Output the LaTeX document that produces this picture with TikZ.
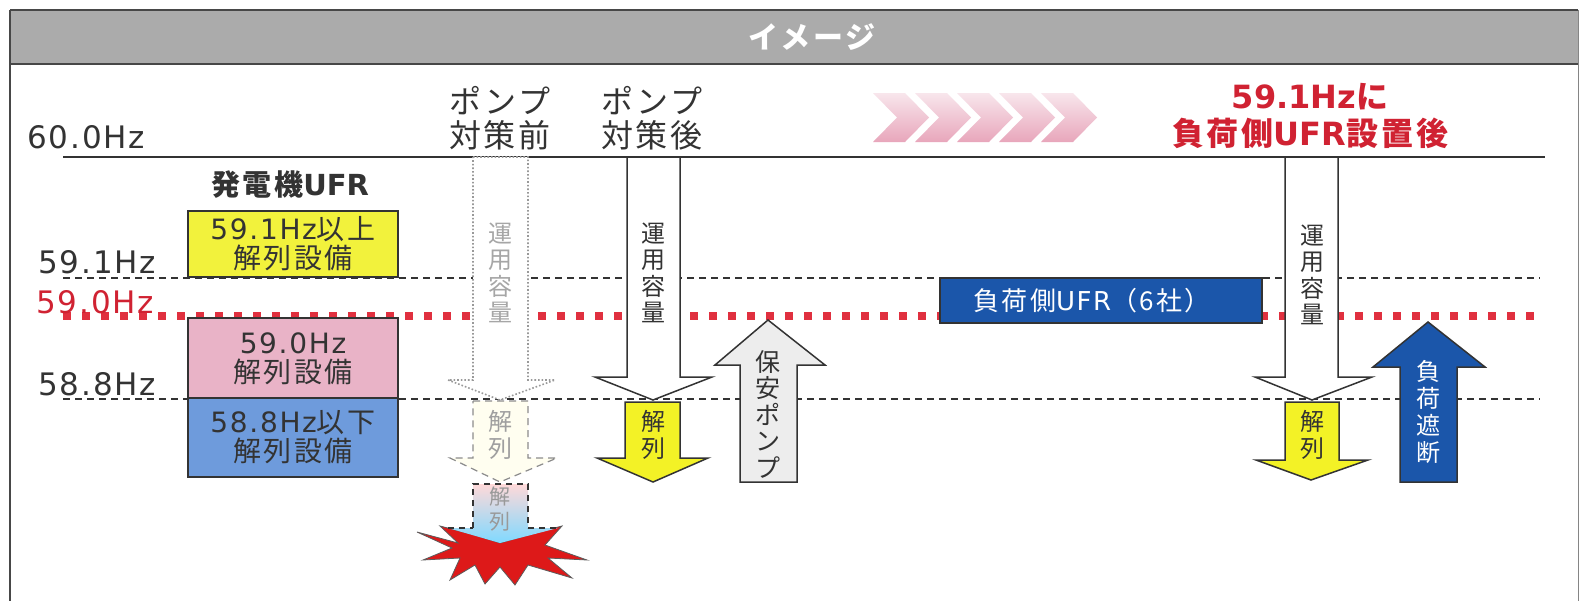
\documentclass[tikz,border=0pt]{standalone}
\usepackage{fontspec}
\newfontfamily\jp{Noto Sans CJK JP}[LetterSpace=9]
\newfontfamily\lat{DejaVu Sans}[LetterSpace=6]
\newfontfamily\latb{DejaVu Sans}
\definecolor{txt}{HTML}{333333}
\definecolor{redtxt}{HTML}{D02232}
\definecolor{reddot}{HTML}{E0303F}
\definecolor{ybox}{HTML}{F2F23C}
\definecolor{pbox}{HTML}{E9B3C7}
\definecolor{bbox}{HTML}{6E9BDC}
\definecolor{darkblue}{HTML}{1B56AA}
\definecolor{barfill}{HTML}{ABABAB}
\definecolor{yarrow}{HTML}{F3F226}
\definecolor{chevtop}{HTML}{F8E6EC}
\definecolor{chevbot}{HTML}{E8A6BB}
\tikzset{
  freqline/.style={draw=txt, line width=1.2pt, dash pattern=on 7pt off 5pt},
  redline/.style={draw=reddot, line width=8pt, dash pattern=on 8pt off 11pt},
  hzlbl/.style={anchor=base west, inner sep=0pt, text=txt, font=\lat\fontsize{31}{33}\selectfont},
  ufrbox/.style={draw=txt, line width=1.2pt},
  boxtxt/.style={align=center, inner sep=0pt, text=txt, font=\jp\fontsize{28}{29}\selectfont},
  vtxt/.style={align=center, inner sep=0pt, font=\jp\fontsize{24}{26.5}\selectfont},
  solidarrow/.style={draw=txt, line width=1.5pt, line join=miter},
  hdr/.style={align=center, inner sep=0pt, text=txt, font=\jp\fontsize{32}{34}\selectfont},
}
\begin{document}
\begin{tikzpicture}[x=1pt,y=-1pt]
\useasboundingbox (0,0) rectangle (1583,600);
\fill[white] (0,0) rectangle (1583,600);
% frame and title bar
\fill[barfill] (10,10) rectangle (1578,64);
\draw[draw=txt!90, line width=1.5pt] (10,10) -- (1578,10);
\draw[draw=txt!90, line width=1.5pt] (10,64) -- (1578,64);
\draw[draw=txt!90, line width=1.5pt] (10,10) -- (10,605);
\draw[draw=txt!60, line width=1pt] (1578,10) -- (1578,605);
\node[text=white, font=\jp\bfseries\fontsize{30}{34}\selectfont, inner sep=0pt] (title) at (812,37) {イメージ};

% headers
\node[hdr] (pre) at (500,118) {ポンプ\\対策前};
\node[hdr] (post) at (652,118) {ポンプ\\対策後};
\foreach \i in {0,...,4}{
  \shade[top color=chevtop, bottom color=chevbot, draw=none]
    ({873+42*\i},93) -- ({905+42*\i},93) -- ({929+42*\i},117.5) -- ({905+42*\i},142)
    -- ({873+42*\i},142) -- ({897+42*\i},117.5) -- cycle;
}
\node[align=center, inner sep=0pt, text=redtxt, font=\jp\bfseries\fontsize{32}{37}\selectfont] (after) at (1310,116) {{\latb\bfseries 59.1Hz}に\\負荷側{\latb\bfseries UFR}設置後};

% frequency lines
\draw[draw=txt, line width=2pt] (63,157) -- (1545,157);
\draw[freqline] (63,278) -- (1540,278);
\draw[freqline] (63,399) -- (1540,399);
\draw[redline] (63,316) -- (1542,316);

% labels
\node[hzlbl] (l60) at (27,148) {60.0Hz};
\node[hzlbl] (l591) at (38,273) {59.1Hz};
\node[hzlbl, text=redtxt] (l590) at (36,313) {59.0Hz};
\node[hzlbl] (l588) at (38,395) {58.8Hz};

% generator UFR boxes
\node[text=txt, font=\jp\bfseries\fontsize{29}{32}\selectfont, inner sep=0pt] (gen) at (290,185) {発電機{\latb\bfseries UFR}};
\draw[ufrbox, fill=ybox] (188,211) rectangle (398,277);
\draw[ufrbox, fill=pbox] (188,318) rectangle (398,398);
\draw[ufrbox, fill=bbox] (188,398) rectangle (398,477);
\node[boxtxt] (ytxt) at (293,244) {{\lat 59.1Hz}以上\\解列設備};
\node[boxtxt] (ptxt) at (293,359) {{\lat 59.0Hz}\\解列設備};
\node[boxtxt] (btxt) at (293,437) {{\lat 58.8Hz}以下\\解列設備};

% before pump measures (faded)
\draw[draw=gray!80, line width=1.6pt, dotted, fill=white]
  (473,157) -- (528,157) -- (528,380) -- (555,380) -- (500,400) -- (448,380) -- (473,380) -- cycle;
\node[vtxt, text=gray!70] (v1) at (500,273) {運\\用\\容\\量};
\draw[draw=gray!90, line width=1.2pt, dash pattern=on 7pt off 5pt, fill=yellow!6]
  (473,401) -- (528,401) -- (528,458) -- (557,458) -- (500,482) -- (450,458) -- (473,458) -- cycle;
\node[vtxt, text=gray!75] (k1) at (500,435) {解\\列};
% burst
\draw[draw=txt!80, line width=0.8pt, fill=red!85!black!90, line join=miter]
  (417,532) -- (458,543) -- (440,526) -- (475,535) -- (500,543) -- (528,535) -- (562,526)
  -- (545,545) -- (587,560) -- (548,558) -- (572,578) -- (528,565) -- (515,585) -- (500,567)
  -- (485,584) -- (475,565) -- (450,580) -- (460,558) -- (423,560) -- (452,548) -- cycle;
\shade[top color=pink!60, middle color=white, bottom color=blue!30!cyan!50]
  (473,484) -- (528,484) -- (528,528) -- (558,528) -- (500,543) -- (448,528) -- (473,528) -- cycle;
\draw[draw=txt, line width=1.2pt, dash pattern=on 6pt off 5pt]
  (473,528) -- (473,484) -- (528,484) -- (528,528);
\draw[draw=txt, line width=1.2pt, dash pattern=on 6pt off 5pt] (448,528) -- (473,528);
\draw[draw=txt, line width=1.2pt, dash pattern=on 6pt off 5pt] (528,528) -- (558,528);
\node[vtxt, text=gray!80, font=\jp\fontsize{21}{25}\selectfont] (k2) at (500,509) {解\\列};

% after pump measures
\draw[solidarrow, fill=white]
  (627,157) -- (680,157) -- (680,377) -- (712,377) -- (653,400) -- (595,377) -- (627,377) -- cycle;
\node[vtxt, text=txt] (v2) at (653,273) {運\\用\\容\\量};
\draw[solidarrow, fill=yarrow]
  (625,402) -- (680,402) -- (680,458) -- (708,458) -- (653,482) -- (597,458) -- (625,458) -- cycle;
\node[vtxt, text=txt] (k3) at (653,435) {解\\列};
\draw[solidarrow, fill=gray!14]
  (740,482) -- (797,482) -- (797,365) -- (825,365) -- (768,320) -- (715,365) -- (740,365) -- cycle;
\node[vtxt, text=txt, font=\jp\fontsize{25}{26.5}\selectfont] (pump) at (768,414) {保\\安\\ポ\\ン\\プ};

% load-side UFR
\draw[draw=txt, line width=1.2pt, fill=darkblue] (940,278) rectangle (1262,323);
\node[text=white, inner sep=0pt, font=\jp\fontsize{26}{28}\selectfont] (load) at (1092,301) {負荷側{\lat UFR}（6社）};

\draw[solidarrow, fill=white]
  (1285,157) -- (1338,157) -- (1338,377) -- (1372,377) -- (1312,400) -- (1255,377) -- (1285,377) -- cycle;
\node[vtxt, text=txt] (v3) at (1312,275) {運\\用\\容\\量};
\draw[solidarrow, fill=yarrow]
  (1285,402) -- (1339,402) -- (1339,460) -- (1368,460) -- (1311,480) -- (1256,460) -- (1285,460) -- cycle;
\node[vtxt, text=txt] (k4) at (1312,435) {解\\列};
\draw[solidarrow, fill=darkblue]
  (1400,482) -- (1457,482) -- (1457,367) -- (1485,367) -- (1428,322) -- (1373,367) -- (1400,367) -- cycle;
\node[vtxt, text=white, font=\jp\fontsize{24}{27}\selectfont] (cut) at (1428,412) {負\\荷\\遮\\断};
\end{tikzpicture}
\end{document}
